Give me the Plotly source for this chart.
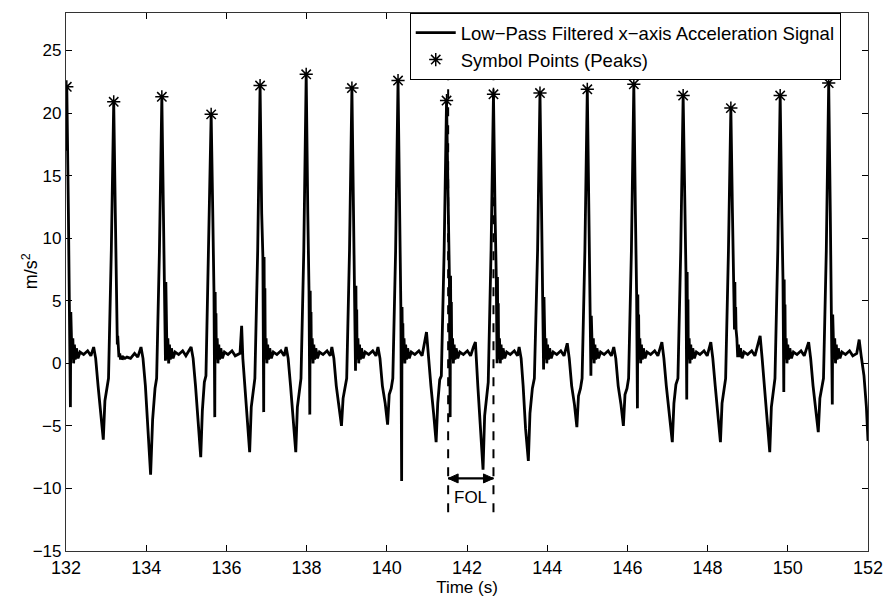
import plotly.graph_objects as go

# ---------------- data ----------------
signal_time = [
    132.00, 132.02, 132.06, 132.09, 132.11, 132.12, 132.13, 132.14, 132.15, 132.17, 132.19, 132.21, 132.23, 132.26, 132.30, 132.35, 132.44, 132.54, 132.62,
    132.69, 132.74, 132.80, 132.87, 132.93, 132.97, 133.02, 133.06, 133.13, 133.19,
    133.23, 133.26, 133.28, 133.29, 133.30, 133.31, 133.32, 133.34, 133.36, 133.38, 133.40, 133.43, 133.47, 133.52, 133.61, 133.71, 133.79,
    133.87, 133.92, 133.98, 134.05, 134.11, 134.16, 134.22, 134.26, 134.33, 134.39,
    134.43, 134.46, 134.48, 134.49, 134.50, 134.51, 134.52, 134.54, 134.56, 134.58, 134.60, 134.63, 134.67, 134.72, 134.81, 134.91, 134.99,
    135.12, 135.17, 135.23, 135.30, 135.36, 135.40, 135.45, 135.49, 135.56, 135.62,
    135.66, 135.69, 135.71, 135.72, 135.73, 135.74, 135.75, 135.77, 135.79, 135.81, 135.83, 135.86, 135.90, 135.95, 136.04, 136.14, 136.22,
    136.34, 136.38, 136.41, 136.46, 136.52, 136.58, 136.62, 136.67, 136.71, 136.78, 136.84,
    136.88, 136.91, 136.93, 136.94, 136.95, 136.96, 136.97, 136.99, 137.01, 137.03, 137.05, 137.08, 137.12, 137.17, 137.26, 137.36, 137.44,
    137.49, 137.54, 137.60, 137.67, 137.73, 137.77, 137.82, 137.86, 137.93, 137.99,
    138.03, 138.06, 138.08, 138.09, 138.10, 138.11, 138.12, 138.14, 138.16, 138.18, 138.20, 138.23, 138.27, 138.32, 138.41, 138.51, 138.59,
    138.63, 138.68, 138.74, 138.81, 138.87, 138.91, 138.96, 139.00, 139.07, 139.13,
    139.17, 139.20, 139.22, 139.23, 139.24, 139.25, 139.26, 139.28, 139.30, 139.32, 139.34, 139.37, 139.41, 139.46, 139.55, 139.65, 139.73,
    139.78, 139.83, 139.89, 139.96, 140.02, 140.06, 140.11, 140.15, 140.22, 140.28,
    140.32, 140.35, 140.37, 140.38, 140.39, 140.40, 140.41, 140.43, 140.45, 140.47, 140.49, 140.52, 140.56, 140.61, 140.70, 140.80, 140.88,
    140.99, 141.04, 141.10, 141.17, 141.23, 141.27, 141.32, 141.36, 141.43, 141.49,
    141.53, 141.56, 141.58, 141.59, 141.60, 141.61, 141.62, 141.64, 141.66, 141.68, 141.70, 141.73, 141.77, 141.82, 141.91, 142.01, 142.09,
    142.16, 142.21, 142.27, 142.34, 142.40, 142.44, 142.49, 142.53, 142.60, 142.66,
    142.70, 142.73, 142.75, 142.76, 142.77, 142.78, 142.79, 142.81, 142.83, 142.85, 142.87, 142.90, 142.94, 142.99, 143.08, 143.18, 143.26,
    143.30, 143.35, 143.40, 143.46, 143.53, 143.57, 143.63, 143.68, 143.76, 143.82,
    143.86, 143.89, 143.91, 143.92, 143.93, 143.94, 143.95, 143.97, 143.99, 144.01, 144.03, 144.06, 144.10, 144.15, 144.24, 144.34, 144.42,
    144.50, 144.55, 144.61, 144.68, 144.74, 144.78, 144.83, 144.87, 144.94, 145.00,
    145.04, 145.07, 145.09, 145.10, 145.11, 145.12, 145.13, 145.15, 145.17, 145.19, 145.21, 145.24, 145.28, 145.33, 145.42, 145.52, 145.60,
    145.66, 145.71, 145.77, 145.84, 145.90, 145.94, 145.99, 146.03, 146.10, 146.16,
    146.20, 146.23, 146.25, 146.26, 146.27, 146.28, 146.29, 146.31, 146.33, 146.35, 146.37, 146.40, 146.44, 146.49, 146.58, 146.68, 146.76,
    146.86, 146.91, 146.97, 147.05, 147.12, 147.16, 147.21, 147.26, 147.33, 147.39,
    147.43, 147.46, 147.48, 147.49, 147.50, 147.51, 147.52, 147.54, 147.56, 147.58, 147.60, 147.63, 147.67, 147.72, 147.81, 147.91, 147.99,
    148.08, 148.13, 148.19, 148.26, 148.32, 148.36, 148.41, 148.45, 148.52, 148.58,
    148.62, 148.65, 148.67, 148.68, 148.69, 148.70, 148.71, 148.73, 148.75, 148.77, 148.79, 148.82, 148.86, 148.91, 149.00, 149.10, 149.18,
    149.31, 149.36, 149.42, 149.49, 149.55, 149.59, 149.64, 149.68, 149.75, 149.81,
    149.85, 149.88, 149.90, 149.91, 149.92, 149.93, 149.94, 149.96, 149.98, 150.00, 150.02, 150.05, 150.09, 150.14, 150.23, 150.33, 150.41,
    150.52, 150.57, 150.63, 150.70, 150.76, 150.80, 150.85, 150.89, 150.96, 151.02,
    151.06, 151.09, 151.11, 151.12, 151.13, 151.14, 151.15, 151.17, 151.19, 151.21, 151.23, 151.26, 151.30, 151.35, 151.44, 151.54, 151.62,
    151.72, 151.78, 151.83, 151.90, 151.96, 152.00,
]
signal_value = [
    17.0, 22.1, 12.0, 4.1, -3.5, 4.1, 1.0, 2.9, 0.3, 2.0, 0.0, 1.5, 0.3, 1.2, 0.4, 0.9, 0.7, 1.0, 0.6,
    1.3, 0.4, -1.8, -4.0, -6.1, -3.0, -2.0, -1.2, 9.0, 20.9,
    12.0, 2.5, 1.5, 2.2, 1.0, 1.2, 0.5, 0.8, 0.3, 0.6, 0.3, 0.5, 0.4, 0.5, 0.4, 0.8, 0.5,
    1.3, 0.4, -1.8, -5.8, -8.9, -4.5, -2.0, -1.2, 9.0, 21.3,
    12.0, 6.5, 0.2, 6.5, 1.0, 4.5, 0.3, 2.0, 0.0, 1.5, 0.3, 1.2, 0.4, 0.9, 0.7, 1.0, 0.6,
    1.3, 0.4, -1.8, -4.9, -7.5, -3.8, -1.5, -1.0, 9.0, 19.9,
    12.0, 5.7, -4.3, 5.7, 1.0, 4.0, 0.3, 2.0, 0.0, 1.5, 0.3, 1.2, 0.4, 0.9, 0.7, 1.0, 0.6,
    0.8, 3.0, 0.4, -1.8, -4.6, -7.1, -3.5, -2.0, -1.2, 9.0, 22.2,
    12.0, 8.5, -3.9, 8.5, 1.0, 6.0, 0.3, 2.0, 0.0, 1.5, 0.3, 1.2, 0.4, 0.9, 0.7, 1.0, 0.6,
    1.3, 0.4, -1.8, -4.6, -7.1, -3.5, -2.0, -1.2, 9.0, 23.1,
    12.0, 5.8, -4.1, 5.8, 1.0, 4.1, 0.3, 2.0, 0.0, 1.5, 0.3, 1.2, 0.4, 0.9, 0.7, 1.0, 0.6,
    1.3, 0.4, -1.8, -3.4, -5.0, -2.8, -2.0, -1.2, 9.0, 22.0,
    12.0, 6.2, -0.6, 6.2, 1.0, 4.3, 0.3, 2.0, 0.0, 1.5, 0.3, 1.2, 0.4, 0.9, 0.7, 1.0, 0.6,
    1.3, 0.4, -1.8, -3.2, -4.9, -2.5, -2.0, -1.2, 9.0, 22.6,
    12.0, 4.5, -9.4, 4.5, 1.0, 3.2, 0.3, 2.0, 0.0, 1.5, 0.3, 1.2, 0.4, 0.9, 0.7, 1.0, 0.6,
    2.5, 0.4, -1.8, -4.1, -6.3, -3.2, -1.3, -1.0, 9.0, 21.0,
    12.0, 7.0, -4.3, 7.0, 1.0, 4.9, 0.3, 2.0, 0.0, 1.5, 0.3, 1.2, 0.4, 0.9, 0.7, 1.0, 0.6,
    1.3, 1.7, -1.8, -5.5, -8.5, -4.2, -2.9, -1.5, 9.0, 21.5,
    12.0, 6.9, 0.0, 6.9, 1.0, 4.8, 0.3, 2.0, 0.0, 1.5, 0.3, 1.2, 0.4, 0.9, 0.7, 1.0, 0.6,
    1.3, 0.4, -1.8, -5.2, -7.8, -4.0, -2.0, -1.2, 9.0, 21.6,
    12.0, 5.3, -0.5, 5.3, 1.0, 3.7, 0.3, 2.0, 0.0, 1.5, 0.3, 1.2, 0.4, 0.9, 0.7, 1.0, 0.6,
    1.6, 0.4, -1.8, -3.3, -5.1, -2.6, -2.0, -1.2, 9.0, 21.9,
    12.0, 3.8, -1.0, 3.8, 1.0, 2.7, 0.3, 2.0, 0.0, 1.5, 0.3, 1.2, 0.4, 0.9, 0.7, 1.0, 0.6,
    1.3, 0.4, -1.8, -3.3, -5.0, -2.5, -2.0, -1.2, 9.0, 22.3,
    12.0, 5.5, -3.6, 5.5, 1.0, 3.9, 0.3, 2.0, 0.0, 1.5, 0.3, 1.2, 0.4, 0.9, 0.7, 1.0, 0.6,
    1.7, 0.4, -1.8, -4.1, -6.3, -3.2, -1.7, -1.2, 9.0, 21.4,
    12.0, 7.3, -2.9, 7.3, 1.0, 5.1, 0.3, 2.0, 0.0, 1.5, 0.3, 1.2, 0.4, 0.9, 0.7, 1.0, 0.6,
    1.7, 0.4, -1.8, -4.1, -6.3, -3.2, -2.0, -1.2, 9.0, 20.4,
    12.0, 6.5, 2.7, 6.5, 2.7, 4.5, 2.7, 2.0, 0.5, 1.5, 0.5, 1.2, 0.4, 0.9, 0.7, 1.0, 0.6,
    2.2, 0.4, -1.8, -4.6, -7.1, -3.5, -2.0, -1.2, 9.0, 21.4,
    12.0, 6.7, -2.3, 6.7, 1.0, 4.7, 0.3, 2.0, 0.0, 1.5, 0.3, 1.2, 0.4, 0.9, 0.7, 1.0, 0.6,
    1.7, 0.4, -1.8, -3.6, -5.5, -2.8, -2.0, -1.2, 9.0, 22.4,
    12.0, 3.9, -3.3, 3.9, 1.0, 2.7, 0.3, 2.0, 0.0, 1.5, 0.3, 1.2, 0.4, 0.9, 0.7, 1.0, 0.6,
    0.8, 1.9, 0.6, -1.0, -3.5, -6.2,
]

peak_time = [132.02, 133.19, 134.39, 135.62, 136.84, 137.99, 139.13, 140.28, 141.49,
             142.66, 143.82, 145.00, 146.16, 147.39, 148.58, 149.81, 151.02]
peak_value = [22.1, 20.9, 21.3, 19.9, 22.2, 23.1, 22.0, 22.6, 21.0,
              21.5, 21.6, 21.9, 22.3, 21.4, 20.4, 21.4, 22.4]

fol_start = 141.53
fol_end = 142.66
fol_top = 23.2
fol_bottom = -11.9
fol_arrow_y = -9.2
fol_label_y = -10.75

x_ticks = [132, 134, 136, 138, 140, 142, 144, 146, 148, 150, 152]
y_ticks = [-15, -10, -5, 0, 5, 10, 15, 20, 25]

# ---------------- figure ----------------
FONT = "Liberation Sans, Arial, Helvetica, sans-serif"
NARROW = "Liberation Sans Narrow, Liberation Sans, Arial, sans-serif"

fig = go.Figure()
fig.add_trace(go.Scatter(
    x=signal_time, y=signal_value, mode="lines",
    line=dict(color="black", width=2.8),
    name="Low\u2212Pass Filtered x\u2212axis Acceleration Signal",
))
fig.add_trace(go.Scatter(
    x=peak_time, y=peak_value, mode="markers",
    marker=dict(symbol="asterisk-open", size=11, color="black",
                line=dict(color="black", width=1.5)),
    name="Symbol Points (Peaks)",
))

# FOL dashed boundaries
for xv in (fol_start, fol_end):
    fig.add_shape(type="line", xref="x", yref="y", x0=xv, x1=xv,
                  y0=fol_bottom, y1=fol_top,
                  line=dict(color="black", width=2, dash="dash"))

# double-headed arrow: shaft + two heads (heads sized in pixels)
fig.add_shape(type="line", xref="x", yref="y", x0=fol_start, x1=fol_end,
              y0=fol_arrow_y, y1=fol_arrow_y, line=dict(color="black", width=2.2))
fig.add_shape(type="path", xref="x", yref="y", xsizemode="pixel", ysizemode="pixel",
              xanchor=fol_start, yanchor=fol_arrow_y,
              path="M 0 0 L 10 -4.5 L 10 4.5 Z", fillcolor="black",
              line=dict(color="black", width=1))
fig.add_shape(type="path", xref="x", yref="y", xsizemode="pixel", ysizemode="pixel",
              xanchor=fol_end, yanchor=fol_arrow_y,
              path="M 0 0 L -10 -4.5 L -10 4.5 Z", fillcolor="black",
              line=dict(color="black", width=1))

fig.add_annotation(x=(fol_start + fol_end) / 2, y=fol_label_y, xref="x", yref="y",
                   text="FOL", showarrow=False,
                   font=dict(family=FONT, size=17, color="black"))

# y-axis title placed as rotated text
fig.add_annotation(x=-0.045, y=0.52, xref="paper", yref="paper",
                   text="m/s<sup>2</sup>", textangle=-90, showarrow=False,
                   xanchor="center", yanchor="middle",
                   font=dict(family=FONT, size=18, color="black"))

fig.update_layout(
    width=886, height=597,
    margin=dict(l=66, r=18, t=13, b=46, autoexpand=False),
    paper_bgcolor="white", plot_bgcolor="white",
    font=dict(family=FONT, size=16, color="black"),
    legend=dict(x=0.966, y=1.0, xanchor="right", yanchor="top",
                bgcolor="white", bordercolor="black", borderwidth=1,
                font=dict(family=FONT, size=18.5, color="black"),
                tracegroupgap=0, itemwidth=40),
    showlegend=True,
)
fig.update_xaxes(
    range=[132, 152], tickvals=x_ticks, ticktext=[str(v) for v in x_ticks],
    ticks="inside", ticklen=6, tickcolor="black", mirror="ticks",
    showline=True, linecolor="#333", linewidth=1.2, showgrid=False, zeroline=False,
    tickfont=dict(family=NARROW, size=18), automargin=False,
    title=dict(text="Time (s)", font=dict(family=NARROW, size=17), standoff=3),
)
fig.update_yaxes(
    range=[-15, 28], tickvals=y_ticks, ticktext=[("\u2212" + str(-v)) if v < 0 else str(v) for v in y_ticks],
    ticks="inside", ticklen=6, tickcolor="black", mirror="ticks",
    showline=True, linecolor="#333", linewidth=1.2, showgrid=False, zeroline=False,
    tickfont=dict(family=FONT, size=17), automargin=False,
)

fig.write_html("out.html")
